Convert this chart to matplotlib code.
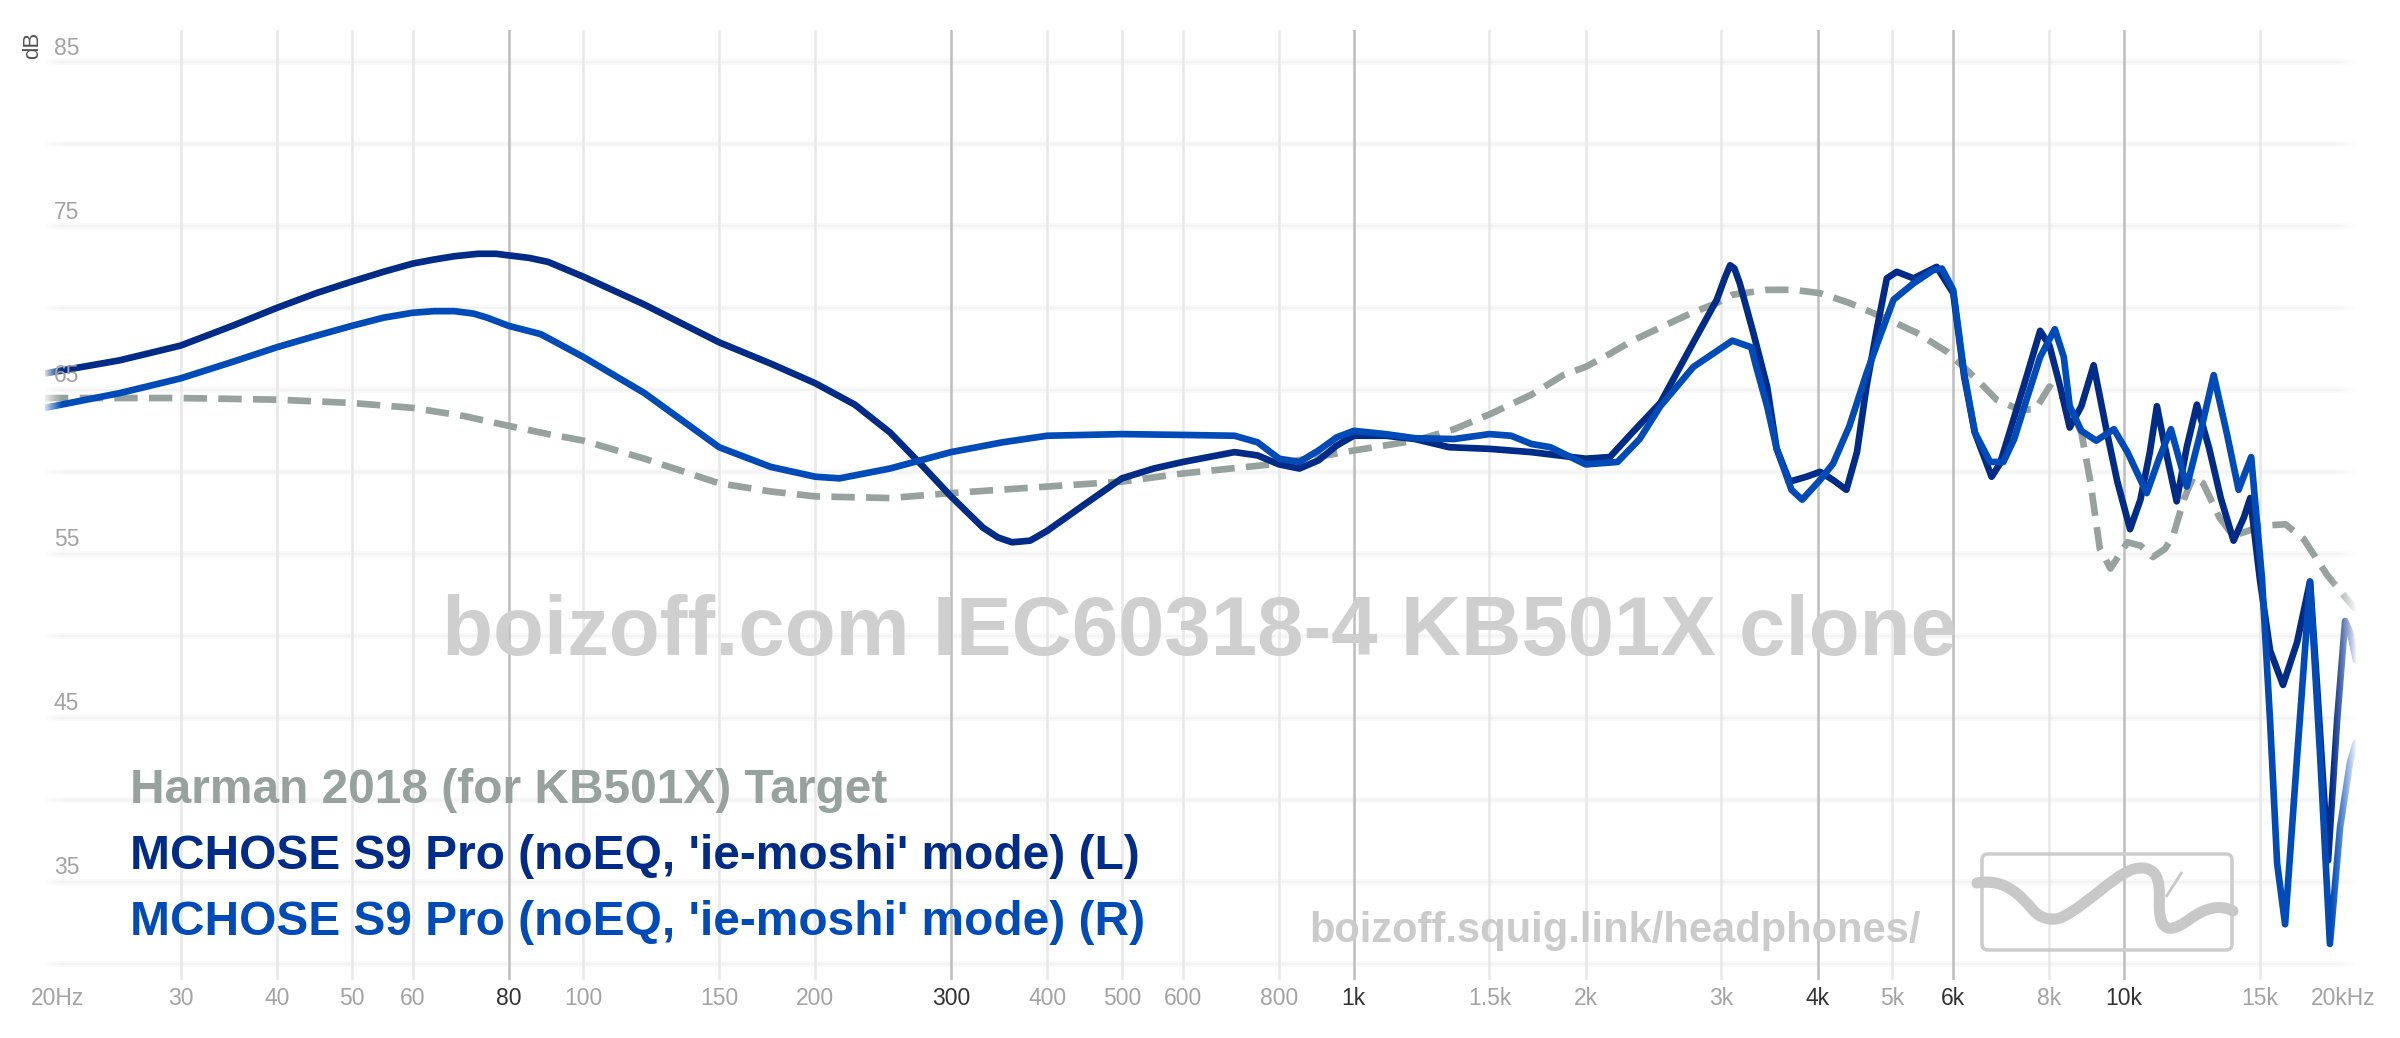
import numpy as np
import matplotlib.pyplot as plt
import matplotlib.transforms as mtransforms
from matplotlib import font_manager
from matplotlib.patches import FancyBboxPatch, PathPatch
from matplotlib.path import Path

plt.rcParams['font.family'] = ['Liberation Sans', 'DejaVu Sans']

# ==============================
# DATA
# ==============================

target_freq = [20, 25, 30, 40, 50, 60, 70, 80, 90, 100, 120, 150, 175, 200, 250, 300, 400,
               500, 600, 800, 1000, 1200, 1350, 1500, 1700, 1870, 2000, 2150, 2300, 2500,
               2720, 2960, 3100, 3440, 3720, 4030, 4400, 4880, 5370, 5900, 6450, 6830, 7300,
               7670, 8000, 8400, 8800, 9040, 9300, 9600, 10100, 10500, 10900, 11300, 11580,
               11950, 12300, 12660, 13300, 13850, 14500, 15000, 16200, 17100, 18350, 19650, 20000]
target_db = [64.5, 64.5, 64.5, 64.4, 64.2, 63.9, 63.4, 62.8, 62.3, 61.9, 60.8, 59.3, 58.8, 58.5,
             58.4, 58.7, 59.1, 59.4, 59.9, 60.5, 61.3, 61.9, 62.6, 63.5, 64.7, 65.9, 66.4, 67.2,
             68.0, 68.8, 69.6, 70.3, 70.8, 71.1, 71.1, 70.9, 70.3, 69.4, 68.5, 67.3, 65.6, 64.4,
             63.8, 63.8, 65.2, 64.4, 62.4, 59.4, 55.3, 54.1, 55.7, 55.5, 54.8, 55.3, 56.1, 58.3,
             59.7, 59.3, 57.2, 56.1, 56.4, 56.7, 56.8, 55.9, 53.7, 52.0, 51.6]

left_freq = [20, 25, 30, 35, 40, 45, 50, 55, 60, 64, 68, 73, 77, 80, 85, 90, 100, 120, 150, 175,
             200, 225, 250, 275, 300, 330, 345, 360, 380, 400, 450, 500, 550, 600, 700, 750, 800,
             850, 900, 950, 1000, 1100, 1200, 1330, 1500, 1700, 2000, 2150, 2300, 2500, 2760,
             2960, 3030, 3080, 3120, 3170, 3300, 3440, 3540, 3680, 3870, 4030, 4190, 4360, 4500,
             4630, 4780, 4920, 5070, 5330, 5710, 6000, 6200, 6400, 6730, 6900, 7100, 7470, 7780,
             8000, 8260, 8500, 8800, 9130, 9500, 9800, 10180, 10500, 10800, 11030, 11300, 11700,
             12060, 12430, 12900, 13350, 13870, 14300, 14580, 15000, 15470, 16080, 16770, 17430,
             17800, 18400, 18900, 19360, 19650, 20000]
left_db = [66.0, 66.8, 67.7, 68.9, 70.0, 70.9, 71.6, 72.2, 72.7, 72.95, 73.15, 73.3, 73.3, 73.2,
           73.05, 72.8, 71.9, 70.2, 67.9, 66.6, 65.4, 64.1, 62.4, 60.4, 58.5, 56.6, 56.0, 55.7,
           55.8, 56.4, 58.1, 59.6, 60.2, 60.6, 61.2, 61.0, 60.45, 60.2, 60.7, 61.6, 62.2, 62.2,
           62.0, 61.5, 61.4, 61.2, 60.8, 60.9, 62.4, 64.2, 67.9, 70.5, 71.8, 72.6, 72.4, 71.5,
           68.5, 65.2, 61.4, 59.4, 59.7, 60.0, 59.5, 58.9, 61.2, 65.2, 68.8, 71.8, 72.2, 71.8,
           72.5, 70.9, 65.8, 62.4, 59.7, 60.5, 62.4, 65.8, 68.6, 67.7, 65.2, 62.7, 64.0, 66.5,
           62.4, 59.4, 56.5, 58.3, 61.2, 64.0, 61.5, 58.2, 61.5, 64.1, 61.4, 58.4, 55.8, 57.2,
           58.4, 53.5, 49.1, 47.0, 49.6, 53.3, 47.0, 36.3, 44.8, 50.9, 50.2, 48.5]

right_freq = [20, 25, 30, 35, 40, 45, 50, 55, 60, 64, 68, 72, 75, 80, 88, 100, 120, 150, 175,
              200, 215, 250, 300, 350, 400, 500, 600, 700, 750, 800, 850, 900, 950, 1000, 1100,
              1200, 1350, 1500, 1600, 1700, 1800, 2000, 2200, 2350, 2500, 2760, 3100, 3280, 3330,
              3440, 3540, 3700, 3820, 4030, 4190, 4400, 4630, 4780, 5020, 5330, 5650, 5800,
              6000, 6200, 6400, 6700, 6970, 7200, 7470, 7780, 8130, 8350, 8500, 8800, 9200,
              9700, 10100, 10700, 11100, 11500, 12060, 12550, 13070, 13600, 14080, 14620,
              15100, 15470, 15800, 16180, 16770, 17430, 17970, 18500, 19070, 19650, 20000]
right_db = [63.9, 64.8, 65.7, 66.7, 67.6, 68.3, 68.9, 69.4, 69.7, 69.8, 69.8, 69.65, 69.4, 68.9,
            68.4, 67.0, 64.8, 61.5, 60.3, 59.7, 59.6, 60.2, 61.2, 61.8, 62.2, 62.3, 62.25, 62.2,
            61.8, 60.8, 60.6, 61.3, 62.1, 62.5, 62.3, 62.05, 62.0, 62.3, 62.2, 61.7, 61.5, 60.45,
            60.6, 62.0, 64.0, 66.4, 68.0, 67.6, 66.4, 64.0, 61.4, 58.9, 58.3, 59.5, 60.5, 62.8,
            66.0, 67.8, 70.5, 71.5, 72.3, 72.4, 71.1, 66.0, 62.4, 60.6, 60.6, 62.0, 64.4, 67.0,
            68.7, 67.0, 64.0, 62.5, 61.9, 62.6, 61.2, 58.7, 60.8, 62.6, 59.1, 62.3, 65.9, 62.3,
            58.9, 60.9, 53.5, 44.8, 36.1, 32.4, 42.6, 53.3, 42.6, 31.2, 38.3, 42.3, 43.5]

series_names = ["Harman 2018 (for KB501X) Target",
                "MCHOSE S9 Pro (noEQ, 'ie-moshi' mode) (L)",
                "MCHOSE S9 Pro (noEQ, 'ie-moshi' mode) (R)"]

grid_freqs = [30, 40, 50, 60, 80, 100, 150, 200, 300, 400, 500, 600, 800, 1000, 1500, 2000,
              3000, 4000, 5000, 6000, 8000, 10000, 15000]
strong_freqs = [80, 300, 1000, 4000, 6000, 10000]
xtick_freqs = [20] + grid_freqs + [20000]
xtick_labels = ['20Hz', '30', '40', '50', '60', '80', '100', '150', '200', '300', '400', '500',
                '600', '800', '1k', '1.5k', '2k', '3k', '4k', '5k', '6k', '8k', '10k', '15k',
                '20kHz']
ygrid_db = list(range(30, 90, 5))
ylabel_db = [35, 45, 55, 65, 75, 85]

# ==============================
# STYLE
# ==============================

W, H = 2400, 1038
c_target = '#97a29e'
c_left = '#002b87'
c_right = '#004bb8'
c_wm = '#cfcfcf'

fig = plt.figure(figsize=(W / 100, H / 100), dpi=100)
ax = fig.add_axes([45 / W, 1 - 980 / H, (2356 - 45) / W, (980 - 30) / H])
ax.set_xscale('log')
for s in ax.spines.values():
    s.set_visible(False)
ax.tick_params(which='both', length=0, labelbottom=False, labelleft=False)

# grid
for d in ygrid_db:
    ax.axhline(d, color='#f9f9f9', lw=4, zorder=0)
    ax.axhline(d, color='#f3f3f3', lw=1.6, zorder=0)
for f in grid_freqs:
    strong = f in strong_freqs
    ax.axvline(f, color='#bdbdbd' if strong else '#e8e8e8', lw=1.8, zorder=0.5)

# curves
ax.plot(target_freq, target_db, color=c_target, lw=4.8, ls=(0, (3.5, 1.7)),
        dash_capstyle='butt', zorder=2)
ax.plot(left_freq, left_db, color=c_left, lw=4.8, solid_joinstyle='round',
        solid_capstyle='round', zorder=3)
ax.plot(right_freq, right_db, color=c_right, lw=4.8, solid_joinstyle='round',
        solid_capstyle='round', zorder=3)

# fade the curve ends into the background
fade = np.ones((1, 256, 4))
ramp = np.linspace(0, 1, 256)
fade_r = fade.copy()
fade_r[0, :, 3] = ramp ** 1.3 * 0.95
fade_l = fade.copy()
fade_l[0, :, 3] = (1 - ramp) ** 1.3 * 0.85
ax.imshow(fade_r, extent=[(2330 - 45) / 2311, 1.0, 0, 1], transform=ax.transAxes,
          aspect='auto', zorder=4, interpolation='bilinear')
ax.imshow(fade_l, extent=[0.0, 18 / 2311, 0, 1], transform=ax.transAxes,
          aspect='auto', zorder=4, interpolation='bilinear')

ax.set_xlim(20, 20000)
ax.set_ylim(29.0, 86.95)

# tick labels
xt = mtransforms.blended_transform_factory(ax.transData, ax.transAxes)
for f, lab in zip(xtick_freqs, xtick_labels):
    col = '#333333' if f in strong_freqs else '#a3a3a3'
    tr = xt
    ha = 'center'
    if lab == '20Hz':
        ha = 'left'
        tr = xt + mtransforms.ScaledTranslation(-14 / 100, 0, fig.dpi_scale_trans)
    elif lab == '20kHz':
        ha = 'right'
        tr = xt + mtransforms.ScaledTranslation(19 / 100, 0, fig.dpi_scale_trans)
    ax.text(f, -0.019, lab, transform=tr, ha=ha, va='center', fontsize=16.5,
            color=col, zorder=5)

yt = mtransforms.blended_transform_factory(ax.transAxes, ax.transData)
for d in ylabel_db:
    ax.text(9 / 2311, d + 0.45, str(d), transform=yt, ha='left', va='baseline',
            fontsize=16.5, color='#a3a3a3', zorder=5)

fig.text(33 / W, 1 - 45 / H, 'dB', rotation=90, ha='center', va='center',
         fontsize=16, color='#555555')

# legend
for name, col, base in zip(series_names, [c_target, c_left, c_right], [803, 869, 935]):
    fig.text(130 / W, 1 - base / H, name, ha='left', va='baseline', fontsize=34.5,
             fontweight='bold', color=col)

# watermarks
fig.text(1199 / W, 1 - 655 / H, 'boizoff.com IEC60318-4 KB501X clone', ha='center',
         va='baseline', fontsize=60, fontweight='bold', color=c_wm, zorder=1)

names = {f.name for f in font_manager.fontManager.ttflist}
if 'Liberation Sans Narrow' in names:
    fam, fs = ['Liberation Sans Narrow', 'DejaVu Sans'], 38
else:
    fam, fs = ['Liberation Sans', 'DejaVu Sans'], 30
fig.text(1309 / W, 1 - 942 / H, 'boizoff.squig.link/headphones/', ha='left',
         va='baseline', fontsize=fs, fontweight='bold', color='#cbcbcb', family=fam)

# logo box
px = mtransforms.IdentityTransform()
box = FancyBboxPatch((1982, H - 950), 250, 96, boxstyle='round,pad=0,rounding_size=6',
                     transform=px, fill=False, ec='#cccccc', lw=2.5)
fig.patches.append(box)
logo_pts = [(1977, 883),
            (2005, 878), (2020, 895), (2033, 910),
            (2040, 918), (2050, 921), (2060, 918),
            (2090, 905), (2120, 866), (2143, 868),
            (2166, 870), (2157, 900), (2160, 915),
            (2163, 935), (2176, 929), (2190, 919),
            (2205, 908), (2220, 904), (2233, 911)]
verts = [(x, H - y) for x, y in logo_pts]
codes = [Path.MOVETO] + [Path.CURVE4] * (len(verts) - 1)
squig = PathPatch(Path(verts, codes), transform=px, fill=False, ec='#c8c8c8', lw=8,
                  capstyle='round', joinstyle='round')
fig.patches.append(squig)
tick = PathPatch(Path([(2166, H - 897), (2182, H - 872)]), transform=px, fill=False,
                 ec='#c8c8c8', lw=2)
fig.patches.append(tick)

fig.savefig('out.png', dpi=100)
